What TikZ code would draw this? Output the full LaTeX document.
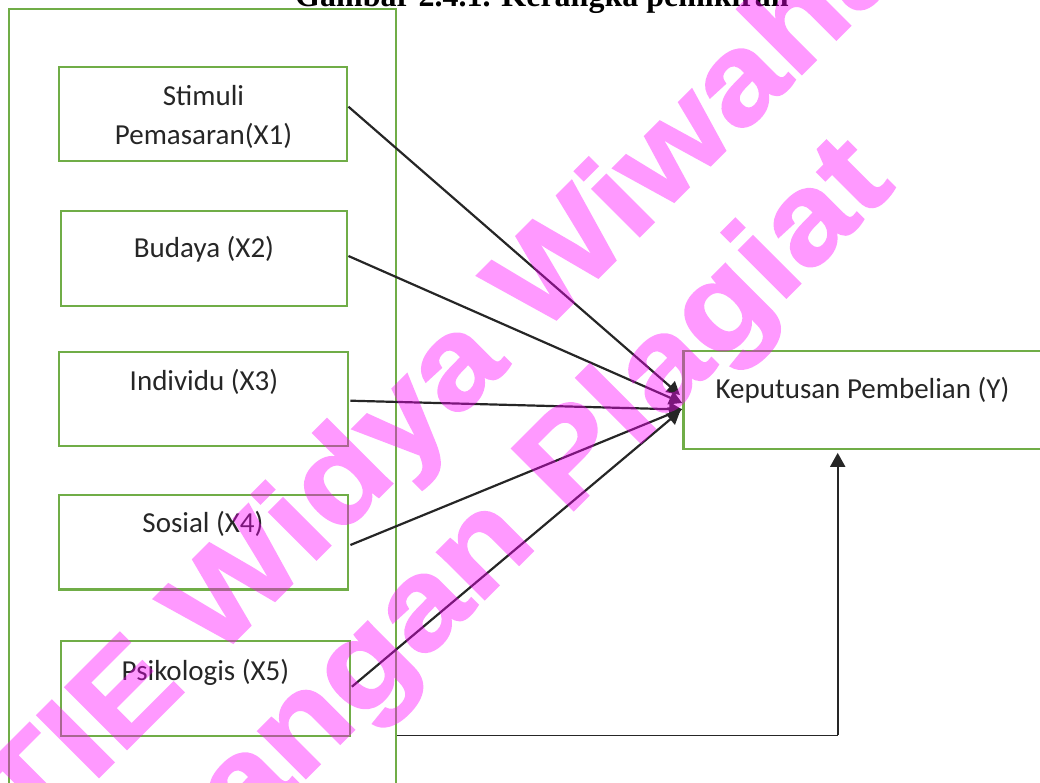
\documentclass[tikz,border=0pt]{standalone}
\usepackage{fontspec}
\usepackage{graphicx}
\usetikzlibrary{arrows.meta,calc}
\newfontfamily\bodyfont{Carlito}
\newfontfamily\titlefont{Liberation Serif}
\newfontfamily\wmfont[FakeBold=1.5]{Liberation Sans Bold}
\definecolor{grn}{HTML}{70AD47}
\definecolor{ink}{HTML}{262626}
\definecolor{wmc}{HTML}{FF00FF}
\tikzset{
  box/.style={draw=grn, line width=2.3pt, rectangle, inner sep=0pt},
  lbl/.style={font=\bodyfont\fontsize{29}{39.3}\selectfont, text=ink, inner sep=0pt, anchor=base},
  arr/.style={draw=ink, line width=2.2pt, -{Triangle[length=13pt,width=14pt]}},
  wm/.style={font=\wmfont\fontsize{127}{146}\selectfont, text=wmc, inner sep=0pt, anchor=base, rotate=45},
}
\begin{document}
\begin{tikzpicture}[x=1pt,y=-1pt]
\useasboundingbox (0,0) rectangle (1040,782);
% title
\node[font=\titlefont\bfseries\fontsize{32}{38}\selectfont, text=black, inner sep=0pt, anchor=base west] (title) at (295,6.5) {Gambar 2.4.1. Kerangka pemikiran};
% outer frame
\node[box, line width=2pt, minimum width=386.7pt, minimum height=800pt] (outer) at (202.7,409.3) {};
% boxes
\node[box, minimum width=288pt, minimum height=94.3pt] (x1) at (203.3,113.85) {};
\node[box, minimum width=286pt, minimum height=95pt] (x2) at (204.3,258.2) {};
\node[box, minimum width=288.4pt, minimum height=94pt] (x3) at (203.5,398.7) {};
\node[box, minimum width=288.7pt, minimum height=94.3pt] (x4) at (203.6,542.2) {};
\node[box, minimum width=289pt, minimum height=94.7pt] (x5) at (205.5,688.4) {};
\node[box, minimum width=358.7pt, minimum height=98.6pt] (y) at (862.7,400) {};
% labels
\node[lbl] (t1a) at (203.5,105) {Stimuli};
\node[lbl] (t1b) at (203.5,144.3) {Pemasaran(X1)};
\node[lbl] (t2) at (204,257.3) {Budaya (X2)};
\node[lbl] (t3) at (204,390) {Individu (X3)};
\node[lbl] (t4) at (203,532.7) {Sosial (X4)};
\node[lbl] (t5) at (205.5,680) {Psikologis (X5)};
\node[lbl] (ty) at (862.5,398.3) {Keputusan Pembelian (Y)};
% connectors
\draw[arr] ([yshift=7.15pt]x1.east) -- ([xshift=-2.3pt,yshift=5pt]y.west);
\draw[arr] ([yshift=2.2pt]x2.east) -- ([yshift=-3pt]y.west);
\draw[arr] ([xshift=1.6pt,yshift=-2pt]x3.east) -- ([yshift=-9.5pt]y.west);
\draw[arr] ([xshift=1.3pt,yshift=-2.8pt]x4.east) -- ([yshift=-9pt]y.west);
\draw[arr] ([xshift=0.7pt,yshift=1.7pt]x5.east) -- ([xshift=-2pt,yshift=-11pt]y.west);
\coordinate (c) at (837.7,735.3);
\draw[draw=ink, line width=1.4pt] (outer.east |- c) -- (c);
\draw[draw=ink, line width=2pt, -{Triangle[length=14pt,width=15pt]}] (c) -- ([xshift=-25pt,yshift=-2.4pt]y.south);
% watermark
\begin{scope}[transparency group, opacity=0.4]
\node[wm] (w1) at (438,438) {\scalebox{1.12}[1]{STIE Widya Wiwaha}};
\node[wm] (w2) at (542,542) {\scalebox{1.12}[1]{Jangan Plagiat}};
\end{scope}
\end{tikzpicture}
\end{document}
